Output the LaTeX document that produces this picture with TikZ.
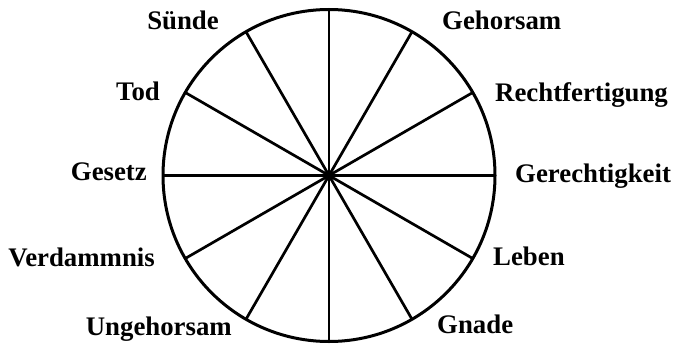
\documentclass[tikz,border=0pt]{standalone}
\usepackage{fontspec}
\setmainfont{Liberation Serif}
\usepackage{tikz}
\usetikzlibrary{positioning}

\begin{document}
\begin{tikzpicture}[x=1pt, y=1pt,
  rad/.style={line width=2.7pt, draw=black},
  lbl/.style={font=\fontsize{26.8}{30}\selectfont\bfseries, text=black, inner sep=0pt, anchor=#1},
]
  \useasboundingbox (0,0) rectangle (674,346);
  \coordinate (c) at (329,170.5);
  \draw[rad, line width=3pt] (c) circle (166);
  \foreach \a in {0,30,...,330} {
    \path (c) ++(\a:166) coordinate (s\a);
    \draw[rad] (c) -- (s\a);
  }
  % links
  \node[lbl=base east] (suende) at (219,316) {Sünde};
  \node[lbl=base east] (tod) at (160,245) {Tod};
  \node[lbl=base east] (gesetz) at (147,166) {Gesetz};
  \node[lbl=base east] (verdammnis) at (155,80) {Verdammnis};
  \node[lbl=base east] (ungehorsam) at (232,11) {Ungehorsam};
  % rechts
  \node[lbl=base west] (gehorsam) at (442,316) {Gehorsam};
  \node[lbl=base west] (rechtf) at (495,244) {Rechtfertigung};
  \node[lbl=base west] (gerecht) at (515,164) {Gerechtigkeit};
  \node[lbl=base west] (leben) at (493,81) {Leben};
  \node[lbl=base west] (gnade) at (437,13) {Gnade};
\end{tikzpicture}
\end{document}
